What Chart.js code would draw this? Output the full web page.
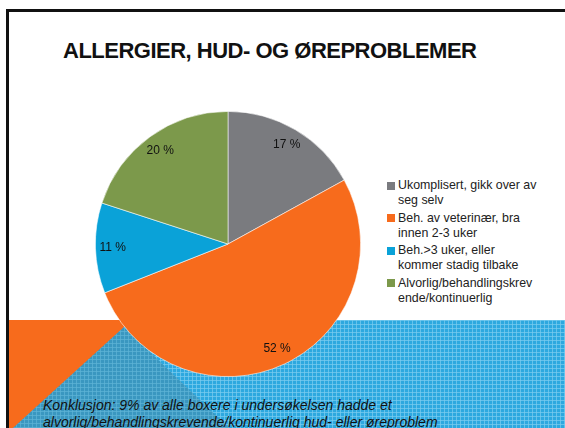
<!DOCTYPE html>
<html>
<head>
<meta charset="utf-8">
<script src="https://cdn.jsdelivr.net/npm/chart.js@4.4.1/dist/chart.umd.min.js"></script>
<style>
  html, body { margin: 0; padding: 0; background: #fff; }
  body { width: 565px; height: 428px; position: relative; overflow: hidden;
         font-family: "Liberation Sans", Arial, sans-serif; }
  .abs { position: absolute; }
  #frame { left: 6px; top: 9px; width: 600px; height: 500px;
           border-top: 3px solid #111; border-left: 3px solid #111; }
  #orangeBox { left: 9px; top: 320px; width: 120px; height: 108px; background: #f76b1c; }
  #blueBox { left: 124px; top: 320px; width: 441px; height: 108px; background-color: #2da8df;
             background-image: linear-gradient(90deg, rgba(125,205,240,0.7) 1px, transparent 1px),
                               linear-gradient(rgba(125,205,240,0.7) 1px, transparent 1px);
             background-size: 4px 4px; }
  #tri { left: 0; top: 327px; width: 250px; height: 101px; background-color: #3a97c0;
         background-image: linear-gradient(90deg, rgba(95,180,215,0.7) 1px, transparent 1px),
                           linear-gradient(rgba(95,180,215,0.7) 1px, transparent 1px);
         background-size: 4px 4px;
         clip-path: polygon(124px 0, 229px 101px, 13px 101px); }
  #title { left: 63px; top: 40px; font-size: 22px; line-height: 22px; font-weight: bold;
           letter-spacing: -0.5px; color: #111; white-space: nowrap; z-index: 3; }
  #pieWrap { left: 95px; top: 111px; width: 266px; height: 266px; z-index: 2; }
  #legend { left: 387px; top: 178px; z-index: 3; font-size: 12.4px; line-height: 15px; color: #222; }
  .item { position: relative; padding-left: 11px; margin-bottom: 2.5px; white-space: nowrap; }
  .box { position: absolute; left: 0; top: 3.5px; width: 8px; height: 8px; }
  #note { left: 43px; top: 397px; font-size: 14px; line-height: 16.7px; font-style: italic;
          color: #111; white-space: nowrap; z-index: 3; }
</style>
</head>
<body>
<div id="frame" class="abs"></div>
<div id="orangeBox" class="abs"></div>
<div id="blueBox" class="abs"></div>
<div id="tri" class="abs"></div>
<div id="title" class="abs">ALLERGIER, HUD- OG ØREPROBLEMER</div>
<div id="pieWrap" class="abs"><canvas id="pie" width="266" height="266"></canvas></div>
<div id="legend" class="abs"></div>
<div id="note" class="abs">Konklusjon: 9% av alle boxere i undersøkelsen hadde et<br>alvorlig/behandlingskrevende/kontinuerlig hud- eller øreproblem</div>
<script>
// categories, as they wrap in the legend
const categories = [
    ['Ukomplisert, gikk over av', 'seg selv'],
    ['Beh. av veterinær, bra', 'innen 2-3 uker'],
    ['Beh.>3 uker, eller', 'kommer stadig tilbake'],
    ['Alvorlig/behandlingskrev', 'ende/kontinuerlig']
];
const shares = [17, 52, 11, 20];
const sliceColors = ['#7a7b7f', '#f76b1c', '#0aa2d8', '#7c994b'];

// legend
const legendEl = document.getElementById('legend');
categories.forEach((lines, i) => {
    const item = document.createElement('div');
    item.className = 'item';
    item.innerHTML = '<span class="box" style="background:' + sliceColors[i] + '"></span>' + lines.join('<br>');
    legendEl.appendChild(item);
});

// percent labels inside the slices
const sliceLabels = {
    id: 'sliceLabels',
    afterDatasetsDraw(chart) {
        const ctx = chart.ctx;
        const meta = chart.getDatasetMeta(0);
        ctx.save();
        ctx.font = '12px "Liberation Sans", Arial, sans-serif';
        ctx.fillStyle = '#111';
        ctx.textAlign = 'center';
        ctx.textBaseline = 'middle';
        meta.data.forEach((arc, i) => {
            const p = arc.getProps(['x', 'y', 'startAngle', 'endAngle', 'outerRadius'], true);
            const mid = (p.startAngle + p.endAngle) / 2;
            const r = p.outerRadius * 0.87;
            ctx.fillText(shares[i] + ' %', p.x + Math.cos(mid) * r, p.y + Math.sin(mid) * r);
        });
        ctx.restore();
    }
};

new Chart(document.getElementById('pie').getContext('2d'), {
    type: 'pie',
    data: {
        labels: categories.map(l => l.join(' ')),
        datasets: [{
            data: shares,
            backgroundColor: sliceColors,
            borderColor: 'rgba(255,255,255,0.7)',
            borderWidth: 0.8
        }]
    },
    options: {
        responsive: false,
        animation: false,
        layout: { padding: 0 },
        plugins: {
            legend: { display: false },
            tooltip: { enabled: false }
        }
    },
    plugins: [sliceLabels]
});
</script>
</body>
</html>
